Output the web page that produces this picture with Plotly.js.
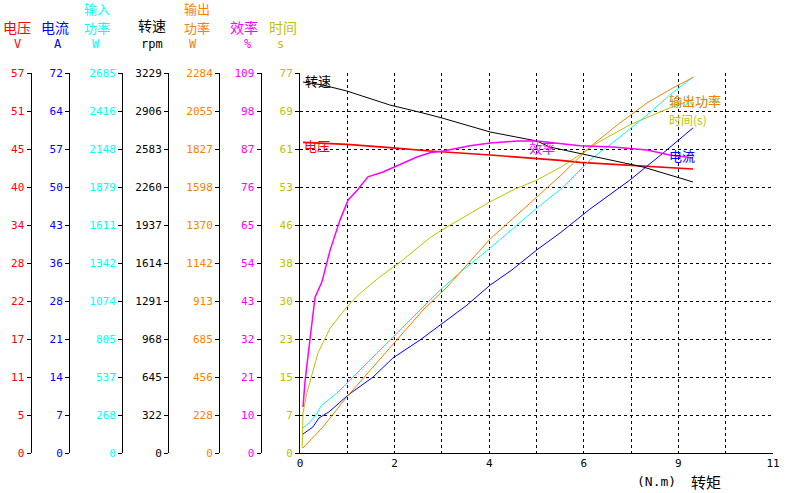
<!DOCTYPE html>
<html>
<head>
<meta charset="utf-8">
<script src="https://cdn.plot.ly/plotly-3.0.1.min.js"></script>
<style>html,body{margin:0;padding:0;background:#fff;}#chart{width:789px;height:493px;}</style>
</head>
<body>
<div id="chart"></div>
<script>
// ---- data (torque in N.m) ----
const speedX = [0.07,0.53,1.09,2.09,2.86,3.30,4.42,5.51,5.81,6.91,7.98,9.14];
const speedRpm = [3152,3127,3076,2957,2889,2847,2728,2651,2600,2515,2430,2303];

const voltX = [0.07,1.09,2.09,3.02,4.42,5.51,6.05,6.51,7.67,8.44,9.14];
const voltV = [46.6,46.3,45.8,45.3,44.7,44.2,43.9,43.6,43.2,42.9,42.6];

const effX = [0.07,0.12,0.23,0.35,0.51,0.63,0.70,0.93,1.12,1.33,1.58,1.93,2.26,2.72,3.02,3.33,3.95,4.42,5.05,5.51,6.51,7.28,8.07,8.60,9.14];
const effPct = [13.2,20.9,32.4,44.7,49.1,55.4,58.2,66.8,72.6,75.4,79.2,80.6,82.3,84.9,86.1,86.6,88.1,88.9,89.5,89.5,88.1,87.8,86.9,85.5,84.6];

const curX = [0.07,0.30,0.44,0.67,0.91,1.12,1.70,2.16,2.79,3.33,3.88,4.42,4.93,5.51,6.05,6.74,7.67,8.44,9.14];
const curA = [3.6,4.93,6.63,7.77,9.47,11.0,14.4,18.0,21.4,24.6,28.0,31.8,34.7,38.5,41.7,46.2,51.7,56.8,61.6];

const pinX = [0.07,0.21,0.37,0.49,0.86,1.33,1.86,2.26,2.72,3.26,3.79,4.42,5.51,6.12,6.74,7.44,8.07,8.60,9.14];
const pinW = [177,212,268,332,424,565,728,848,989,1152,1293,1448,1731,1879,2070,2233,2388,2530,2657];

const poutX = [0.07,0.53,1.09,1.70,2.26,2.86,3.42,4.42,5.51,6.05,6.74,7.44,8.07,8.67,9.16];
const poutW = [30,156,337,517,679,859,998,1286,1539,1665,1839,1984,2104,2194,2260];

const timeX = [0.05,0.07,0.16,0.30,0.42,0.70,1.09,1.40,1.86,2.33,3.02,3.30,4.42,5.00,5.51,6.12,6.91,7.67,8.54,9.14];
const timeS = [1.0,8.1,12.2,16.8,20.3,25.3,29.6,32.4,35.7,38.7,43.6,45.2,50.9,53.5,55.3,58.2,62.8,66.5,69.7,71.7];

// ---- tick labels ----
const xTickText = ['0','','2','','4','','6','','9','','11'];
const voltTicks = ['0','5','11','17','22','28','34','40','45','51','57'];
const curTicks  = ['0','7','14','21','28','36','43','50','57','64','72'];
const pinTicks  = ['0','268','537','805','1074','1342','1611','1879','2148','2416','2685'];
const rpmTicks  = ['0','322','645','968','1291','1614','1937','2260','2583','2906','3229'];
const poutTicks = ['0','228','456','685','913','1142','1370','1598','1827','2055','2284'];
const effTicks  = ['0','10','21','32','43','54','65','76','87','98','109'];
const timeTicks = ['0','7','15','23','30','38','46','53','61','69','77'];

const C = {volt:'#FF0000', cur:'#0000FF', pin:'#00FFFF', rpm:'#000000', pout:'#FF8000', eff:'#FF00FF', time:'#C0C000'};
const TICKFONT = 'DejaVu Sans Mono';
const CJK = 'Noto Sans CJK SC';

function tv(max){ const a=[]; for(let i=0;i<=10;i++) a.push(max*i/10); return a; }

const W = 789, H = 493, ML = 0, MR = 16, MT = 73, MB = 40;
const PW = W - ML - MR, PH = H - MT - MB;
const px = x => (x - ML) / PW;
const py = y => (H - MB - y) / PH;

function yAxis(max, ticks, color, posPx, extra){
  const a = {
    range:[0,max], tickvals:tv(max), ticktext:ticks,
    tickfont:{family:TICKFONT, size:11, color:color},
    showline:true, linecolor:'#000', linewidth:1,
    ticks:'outside', ticklen:4, tickcolor:'#000', tickwidth:1,
    showgrid:false, zeroline:false, fixedrange:true, side:'left'
  };
  if (posPx !== null){ a.anchor='free'; a.position=px(posPx); a.overlaying='y'; }
  return Object.assign(a, extra||{});
}

const layout = {
  width:W, height:H, margin:{l:ML, r:MR, t:MT, b:MB},
  paper_bgcolor:'#fff', plot_bgcolor:'#fff', showlegend:false,
  xaxis:{
    domain:[px(300),1], range:[0,11],
    tickvals:tv(11), ticktext:xTickText,
    tickfont:{family:TICKFONT, size:11, color:'#000'},
    showline:true, linecolor:'#000', linewidth:1,
    ticks:'', showgrid:true, gridcolor:'#000', griddash:'3px,3px', gridwidth:1,
    zeroline:false, fixedrange:true
  },
  yaxis: yAxis(77, timeTicks, C.time, null, {anchor:'x', showgrid:true, gridcolor:'#000', griddash:'3px,3px', gridwidth:1}),
  yaxis2: yAxis(57, voltTicks, C.volt, 30.5),
  yaxis3: yAxis(72, curTicks, C.cur, 69),
  yaxis4: yAxis(2685, pinTicks, C.pin, 122),
  yaxis5: yAxis(3229, rpmTicks, C.rpm, 168),
  yaxis6: yAxis(2284, poutTicks, C.pout, 219),
  yaxis7: yAxis(109, effTicks, C.eff, 260.5),
  annotations:[]
};

function ann(text, x, y, color, size, family, xanchor){
  layout.annotations.push({text:text, xref:'paper', yref:'paper', x:px(x), y:py(y),
    xanchor:xanchor||'center', yanchor:'middle', showarrow:false,
    font:{family:family||CJK, size:size||14, color:color}});
}
// headers
ann('电压', 17, 27, C.volt); ann('V', 17, 44, C.volt, 12, TICKFONT);
ann('电流', 55, 27, C.cur); ann('A', 58, 44, C.cur, 12, TICKFONT);
ann('输入', 97, 9, C.pin, 13); ann('功率', 97, 27, C.pin, 13); ann('W', 96, 44, C.pin, 12, TICKFONT);
ann('转速', 152, 25, C.rpm); ann('rpm', 152, 44, C.rpm, 12, TICKFONT);
ann('输出', 197, 9, C.pout, 13); ann('功率', 197, 27, C.pout, 13); ann('W', 193, 44, C.pout, 12, TICKFONT);
ann('效率', 244, 27, C.eff); ann('%', 248, 44, C.eff, 12, TICKFONT);
ann('时间', 283, 27, C.time); ann('s', 280, 44, C.time, 12, TICKFONT);
// curve labels
ann('转速', 303, 81, C.rpm, 13, CJK, 'left');
ann('电压', 302, 145, C.volt, 13, CJK, 'left');
ann('效率', 527, 147, C.eff, 13, CJK, 'left');
ann('电流', 667, 155, C.cur, 13, CJK, 'left');
ann('输入功率', 667, 100, C.pin, 13, CJK, 'left');
ann('输出功率', 667, 100, C.pout, 13, CJK, 'left');
ann('时间(s)', 667, 119, C.time, 12, CJK, 'left');
// x axis title
ann('(N.m)', 656, 482, '#000', 13, TICKFONT);
ann('转矩', 706, 482, '#000', 15, CJK);

const traces = [
  {x:timeX, y:timeS, yaxis:'y', color:C.time, w:1},
  {x:poutX, y:poutW, yaxis:'y6', color:C.pout, w:1},
  {x:pinX, y:pinW, yaxis:'y4', color:C.pin, w:1},
  {x:curX, y:curA, yaxis:'y3', color:C.cur, w:1},
  {x:speedX, y:speedRpm, yaxis:'y5', color:C.rpm, w:1},
  {x:effX, y:effPct, yaxis:'y7', color:C.eff, w:1.5},
  {x:voltX, y:voltV, yaxis:'y2', color:C.volt, w:1.6}
].map(t => ({type:'scatter', mode:'lines', x:t.x, y:t.y, xaxis:'x', yaxis:t.yaxis,
  line:{color:t.color, width:t.w}, hoverinfo:'skip'}));

Plotly.newPlot('chart', traces, layout, {staticPlot:true, displayModeBar:false});
</script>
</body>
</html>
